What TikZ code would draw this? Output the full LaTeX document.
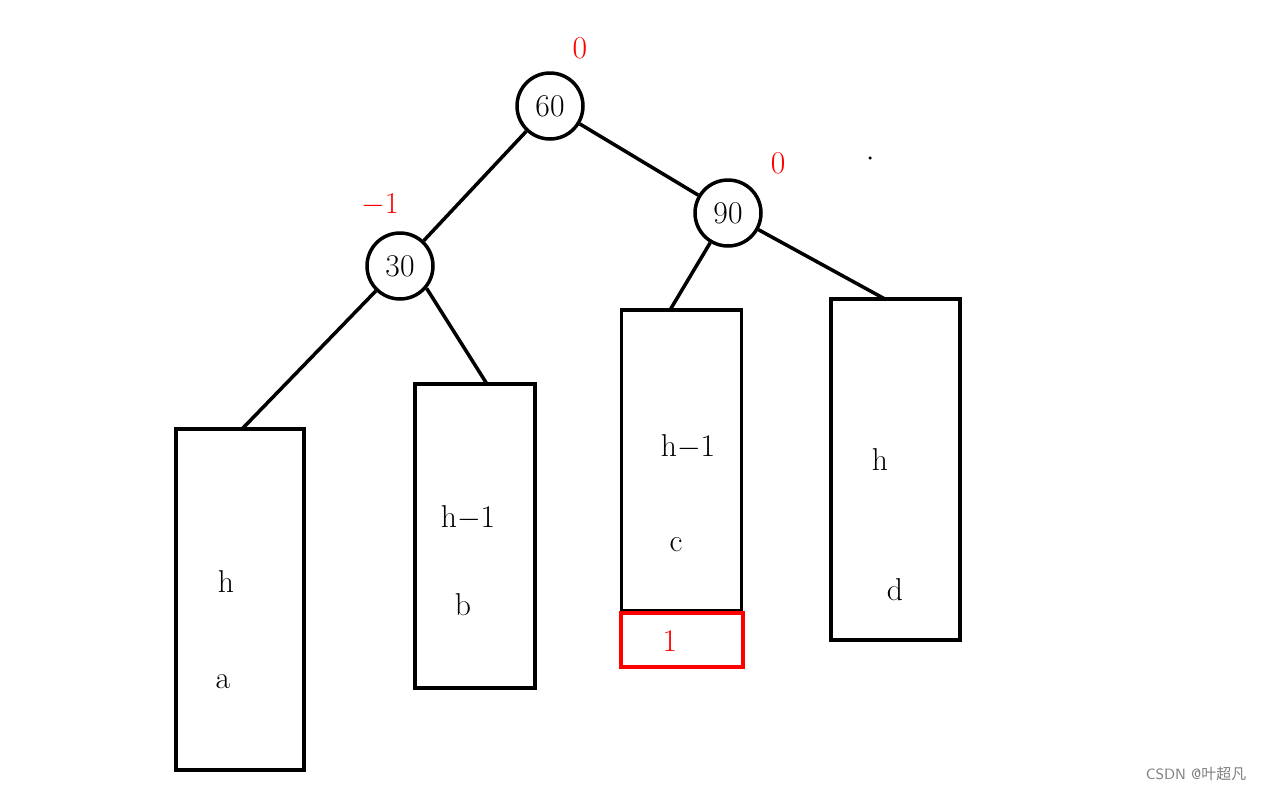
\documentclass[tikz,border=0pt]{standalone}
\usepackage{fontspec}
\newfontfamily\cjk{Noto Sans CJK SC}
\usetikzlibrary{positioning}

\begin{document}
\begin{tikzpicture}[
  x=0.02cm, y=-0.02cm,
  font=\fontsize{18}{21}\selectfont,
  keynode/.style={
    circle,
    draw,
    line width=2pt,
    minimum size=1.32cm,
    inner sep=0pt
  },
  subtree/.style={
    rectangle,
    draw,
    line width=2pt,
    minimum width=2.4cm,
    outer sep=0pt
  },
  balance/.style={text=red},
  edge/.style={line width=2pt}]
  \useasboundingbox (0,0) rectangle (1261,792);
  % keys
  \node[keynode] (n60) at (550,106) {60};
  \node[keynode] (n30) at (400,266) {30};
  \node[keynode] (n90) at (728,213) {90};
  % balance factors
  \node[balance] (bf60) at (580,48) {0};
  \node[balance] (bf30) at (380,205) {$-1$};
  \node[balance] (bf90) at (778,163) {0};
  % subtrees
  \node[subtree, minimum width=2.56cm, minimum height=6.82cm] (ta) at (240,599.5) {};
  \node[subtree, minimum height=6.08cm] (tb) at (475,536) {};
  \node[subtree, minimum height=6.02cm] (tc) at (681.5,460.5) {};
  \node[subtree, draw=red, minimum width=2.44cm, minimum height=1.08cm] (extra) at (682,640) {};
  \node[subtree, minimum width=2.58cm, minimum height=6.82cm] (td) at (895.5,469.5) {};
  % heights and names
  \node (ha) at (226,582) {h};
  \node (la) at (223,682) {a};
  \node (hb) at (468,518) {h$-$1};
  \node (lb) at (463,605) {b};
  \node (hc) at (688,447) {h$-$1};
  \node (lc) at (676,545) {c};
  \node (hd) at (880,460) {h};
  \node (ld) at (895,590) {d};
  \node[balance] (one) at (670,641) {1};
  % edges
  \draw[edge] (n60) -- (n30);
  \draw[edge] (n60) -- (n90);
  \draw[edge] (n30) -- ([xshift=0.04cm]ta.north);
  \draw[edge] (n30.-40) -- ([xshift=0.24cm]tb.north);
  \draw[edge] (n90) -- ([xshift=-0.23cm]tc.north);
  \draw[edge] (n90) -- ([xshift=-0.21cm]td.north);
  % stray dot
  \fill (870,158) circle (0.035cm);
  \node[text=gray, font=\fontsize{8.5}{10}\sffamily] (mark) at (1196,774) {CSDN @{\cjk 叶超凡}};
\end{tikzpicture}
\end{document}
